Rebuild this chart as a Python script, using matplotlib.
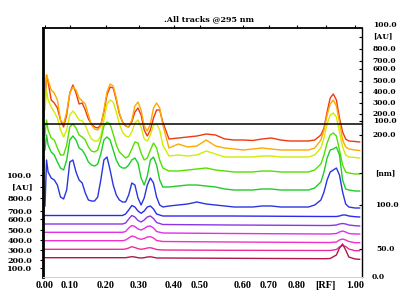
import matplotlib
matplotlib.use("Agg")
import matplotlib.pyplot as plt

# ---------------- data ----------------
# common Rf grid for the six upper (strong) tracks
rf_upper = [0.000, 0.005, 0.010, 0.020, 0.030, 0.040, 0.050, 0.060, 0.070, 0.080,
            0.090, 0.100, 0.110, 0.120, 0.130, 0.140, 0.150, 0.160, 0.170, 0.180,
            0.190, 0.200, 0.210, 0.220, 0.230, 0.240, 0.250, 0.260, 0.270, 0.280,
            0.290, 0.300, 0.310, 0.320, 0.330, 0.340, 0.350, 0.360, 0.370, 0.380,
            0.400, 0.430, 0.460, 0.490, 0.520, 0.550, 0.580, 0.610, 0.640, 0.670,
            0.700, 0.730, 0.760, 0.790, 0.820, 0.850, 0.870, 0.890, 0.900, 0.910,
            0.920, 0.930, 0.940, 0.950, 0.960, 0.970, 0.980, 1.000, 1.015]

# signal + track offset (AU, display units)
track_red = [177, 202, 195, 177, 174, 169, 157, 150, 162, 184,
             192, 184, 173, 174, 167, 158, 153, 150, 149, 152,
             165, 182, 190, 189, 177, 163, 155, 151, 150, 155,
             165, 169, 162, 147, 141, 147, 159, 167, 167, 155,
             138, 139, 140, 141, 143, 142, 138, 137, 137, 136.5,
             138, 139, 137, 136, 136, 136, 137, 142, 149, 165,
             179, 183, 177, 159, 145, 138, 136, 135.5, 135]
track_orange = [177, 202, 197, 187, 184, 177, 157, 153, 165, 184,
                190, 187, 179, 176, 173, 162, 152, 148, 147, 151,
                167, 185, 193, 191, 179, 164, 155, 151, 150, 157,
                171, 175, 167, 151, 146, 153, 169, 174, 169, 152,
                129, 133, 130, 131, 137, 131, 129, 128, 127, 128,
                129, 128, 127, 127, 127, 127, 129, 137, 147, 162,
                173, 177, 171, 155, 137, 130, 128, 127, 126.5]
track_yellow = [167, 187, 177, 170, 165, 159, 147, 140, 147, 162,
                166, 162, 157, 156, 152, 144, 138, 136, 136, 141,
                157, 173, 177, 175, 165, 153, 145, 141, 140, 145,
                154, 157, 150, 138, 136, 142, 152, 153, 147, 132,
                121, 122, 121, 122, 126, 123, 120, 120, 120, 120,
                121, 121, 120, 120, 120, 120, 122, 129, 139, 153,
                162, 164, 160, 145, 130, 122, 120, 119.5, 119]
track_green1 = [142, 157, 147, 139, 137, 129, 122, 122, 132, 150,
                153, 149, 142, 140, 137, 130, 126, 125, 127, 137,
                151, 155, 153, 143, 132, 125, 122, 119, 121, 128,
                135, 134, 124, 117, 119, 127, 134, 129, 117, 109,
                106, 106, 107, 108, 109, 107, 106, 105, 105, 105,
                106, 106, 105, 105, 105, 105, 107, 113, 122, 134,
                142, 144, 141, 127, 112, 105, 104, 103, 103]
track_green2 = [127, 142, 132, 125, 122, 115, 109, 107, 117, 137,
                141, 137, 129, 127, 122, 115, 112, 111, 113, 123,
                137, 140, 137, 127, 117, 111, 109, 109, 112, 117,
                119, 114, 99, 92, 101, 117, 120, 112, 97, 90,
                90, 91, 92, 92, 91, 90, 88, 87, 87, 87,
                88, 88, 87, 87, 87, 87, 89, 95, 105, 119,
                127, 128, 130, 122, 97, 88, 87, 86, 86]
track_blue = [71, 117, 105, 99, 97, 92, 80, 78, 87, 115,
              117, 105, 97, 94, 84, 77, 76, 76, 80, 97,
              117, 120, 107, 92, 82, 77, 75, 75, 82, 94,
              92, 79, 72, 79, 92, 99, 94, 80, 72, 70,
              71, 72, 73, 75, 73, 72, 71, 70, 70, 70,
              71, 71, 70, 70, 70, 70, 72, 77, 85, 97,
              105, 107, 109, 102, 85, 73, 70, 69, 69]

# Rf grid for the six lower (weak) tracks
rf_lower = [0.000, 0.230, 0.250, 0.260, 0.270, 0.280, 0.290, 0.300, 0.310, 0.320,
            0.330, 0.340, 0.350, 0.360, 0.380, 0.600, 0.900, 0.920, 0.940, 0.950,
            0.960, 0.970, 0.980, 1.000, 1.015]
track_blue2 = [61.5, 61.5, 61.5, 63, 67, 71.5, 70, 66, 63.7, 66,
               70, 71, 68, 63, 61, 61, 60.5, 60.5, 60.5, 61,
               62, 62, 61, 60.3, 60]
track_violet = [53, 53, 53, 54, 58, 61.5, 60, 56.5, 55, 57,
                60, 61, 58.5, 54.5, 52.5, 52, 51.5, 51.5, 52, 53,
                53.5, 53, 52, 51.3, 51]
track_magenta = [44.7, 44.7, 44.7, 45.5, 49, 51.5, 50.5, 48, 47, 48.5,
                 50.5, 51, 49, 45.5, 44, 43.5, 43, 43, 43.5, 45,
                 46, 45, 43.5, 43, 43]
track_magenta2 = [36.3, 36.3, 36.3, 37, 39, 41, 40.2, 38.5, 37.7, 38.5,
                  40, 40.3, 39, 36.5, 35.5, 35, 34.5, 34.5, 35, 37,
                  38, 37, 35.5, 34.3, 34.3]
track_pink = [27.7, 27.7, 27.7, 28, 29, 30.3, 29.5, 28.3, 27.7, 28.2,
              29, 29.3, 28.5, 27.5, 27, 26.7, 26.5, 26.5, 27.5, 30,
              31.5, 30.5, 28, 26.3, 26.3]
track_crimson = [19.3, 19.3, 19.3, 19.3, 19.8, 20.3, 20, 19.3, 19, 19.3,
                 20, 20.2, 19.7, 19, 19, 18.7, 18.3, 18.5, 22, 29,
                 33, 27, 20, 18, 17.7]

upper_tracks = [track_red, track_orange, track_yellow, track_green1, track_green2, track_blue]
upper_colors = ["#ee3a10", "#ffa800", "#d2ec00", "#55e000", "#1fcc2a", "#2a36dd"]
lower_tracks = [track_blue2, track_violet, track_magenta, track_magenta2, track_pink, track_crimson]
lower_colors = ["#2b2bee", "#8a36e6", "#e030e8", "#f030c8", "#ec2c98", "#b01848"]

xtick_pos = [0.0, 0.081, 0.197, 0.303, 0.416, 0.50, 0.639, 0.723, 0.813, 0.906, 1.0]
xtick_labels = ["0.00", "0.10", "0.20", "0.30", "0.40", "0.50", "0.60", "0.70", "0.80", "[RF]", "1.00"]

left_labels = ["100.0", "[AU]", "800.0", "700.0", "600.0", "500.0", "400.0", "300.0", "200.0", "100.0"]
right_labels = ["100.0", "[AU]", "800.0", "700.0", "600.0", "500.0", "400.0", "300.0",
                "200.0", "100.0", "200.0", "[nm]", "100.0", "50.0", "0.0"]
title = ".All tracks @295 nm"

# ---------------- layout helpers ----------------
W, H = 401, 301
def fx(px):
    return px / W
def fy(py):
    return 1 - py / H

fig = plt.figure(figsize=(4.01, 3.01), dpi=100)
fig.patch.set_facecolor("white")
L, R, T, B = 42.7, 362.0, 28.0, 277.0
ax = fig.add_axes([fx(L), fy(B), fx(R) - fx(L), fy(T) - fy(B)])
ax.set_xlim(-0.0074, 1.0226)
ax.set_ylim(0, 249)

for trk, col in zip(upper_tracks, upper_colors):
    ax.plot(rf_upper, trk, color=col, lw=1.0, solid_joinstyle="round")
for trk, col in zip(lower_tracks, lower_colors):
    ax.plot(rf_lower, trk, color=col, lw=1.0, solid_joinstyle="round")

ax.axhline(153, xmin=0.007, xmax=1.0, color="black", lw=1.1)

for s in ax.spines.values():
    s.set_color("black")
ax.spines["left"].set_linewidth(2.0)
ax.spines["top"].set_linewidth(1.3)
ax.spines["right"].set_linewidth(1.0)
ax.spines["bottom"].set_color("#d0d0d0")
ax.spines["bottom"].set_linewidth(0.7)

serif = "DejaVu Serif"
ax.set_xticks(xtick_pos, xtick_labels)
ax.tick_params(axis="x", bottom=False, top=True, length=2.0, width=0.8,
               direction="out", pad=1.0)
for lab in ax.get_xticklabels():
    lab.set_fontweight("bold")
    lab.set_family("Liberation Serif")
    lab.set_fontsize(7.4)

left_py = [175, 186.7, 197.7, 211, 219.3, 230, 240, 250, 260, 268.3]
ax.set_yticks([B - p for p in left_py], left_labels)
ax.tick_params(axis="y", left=True, right=False, length=2.5, width=0.8,
               direction="out", pad=5)
for lab in ax.get_yticklabels():
    lab.set_fontweight("bold")
    lab.set_family(serif)
    lab.set_fontsize(5.8)

right_py = [25, 36.7, 49, 61, 69, 80.7, 91.7, 103, 114, 120.7, 135, 173.3, 205, 249, 277.3]
right_px = [372.7, 372.7, 372.7, 372.7, 372.7, 372.7, 372.7, 372.7, 372.7, 372.7, 372.7, 375, 375, 376.7, 371.7]
for lab, px, py in zip(right_labels, right_px, right_py):
    fig.text(fx(px), fy(py), lab, ha="left", va="center", fontsize=5.4,
             fontweight="bold", family=serif)

ax2 = ax.twinx()
ax2.set_ylim(0, 249)
ax2.set_yticks([B - p for p in right_py if T < p < B])
ax2.tick_params(axis="y", right=True, length=2.0, width=0.8, direction="in", labelright=False)
for s in ax2.spines.values():
    s.set_visible(False)

fig.text(fx(209), fy(19), title, ha="center", va="center", fontsize=5.8,
         fontweight="bold", family=serif)

fig.savefig("out.png", dpi=100, facecolor="white")
